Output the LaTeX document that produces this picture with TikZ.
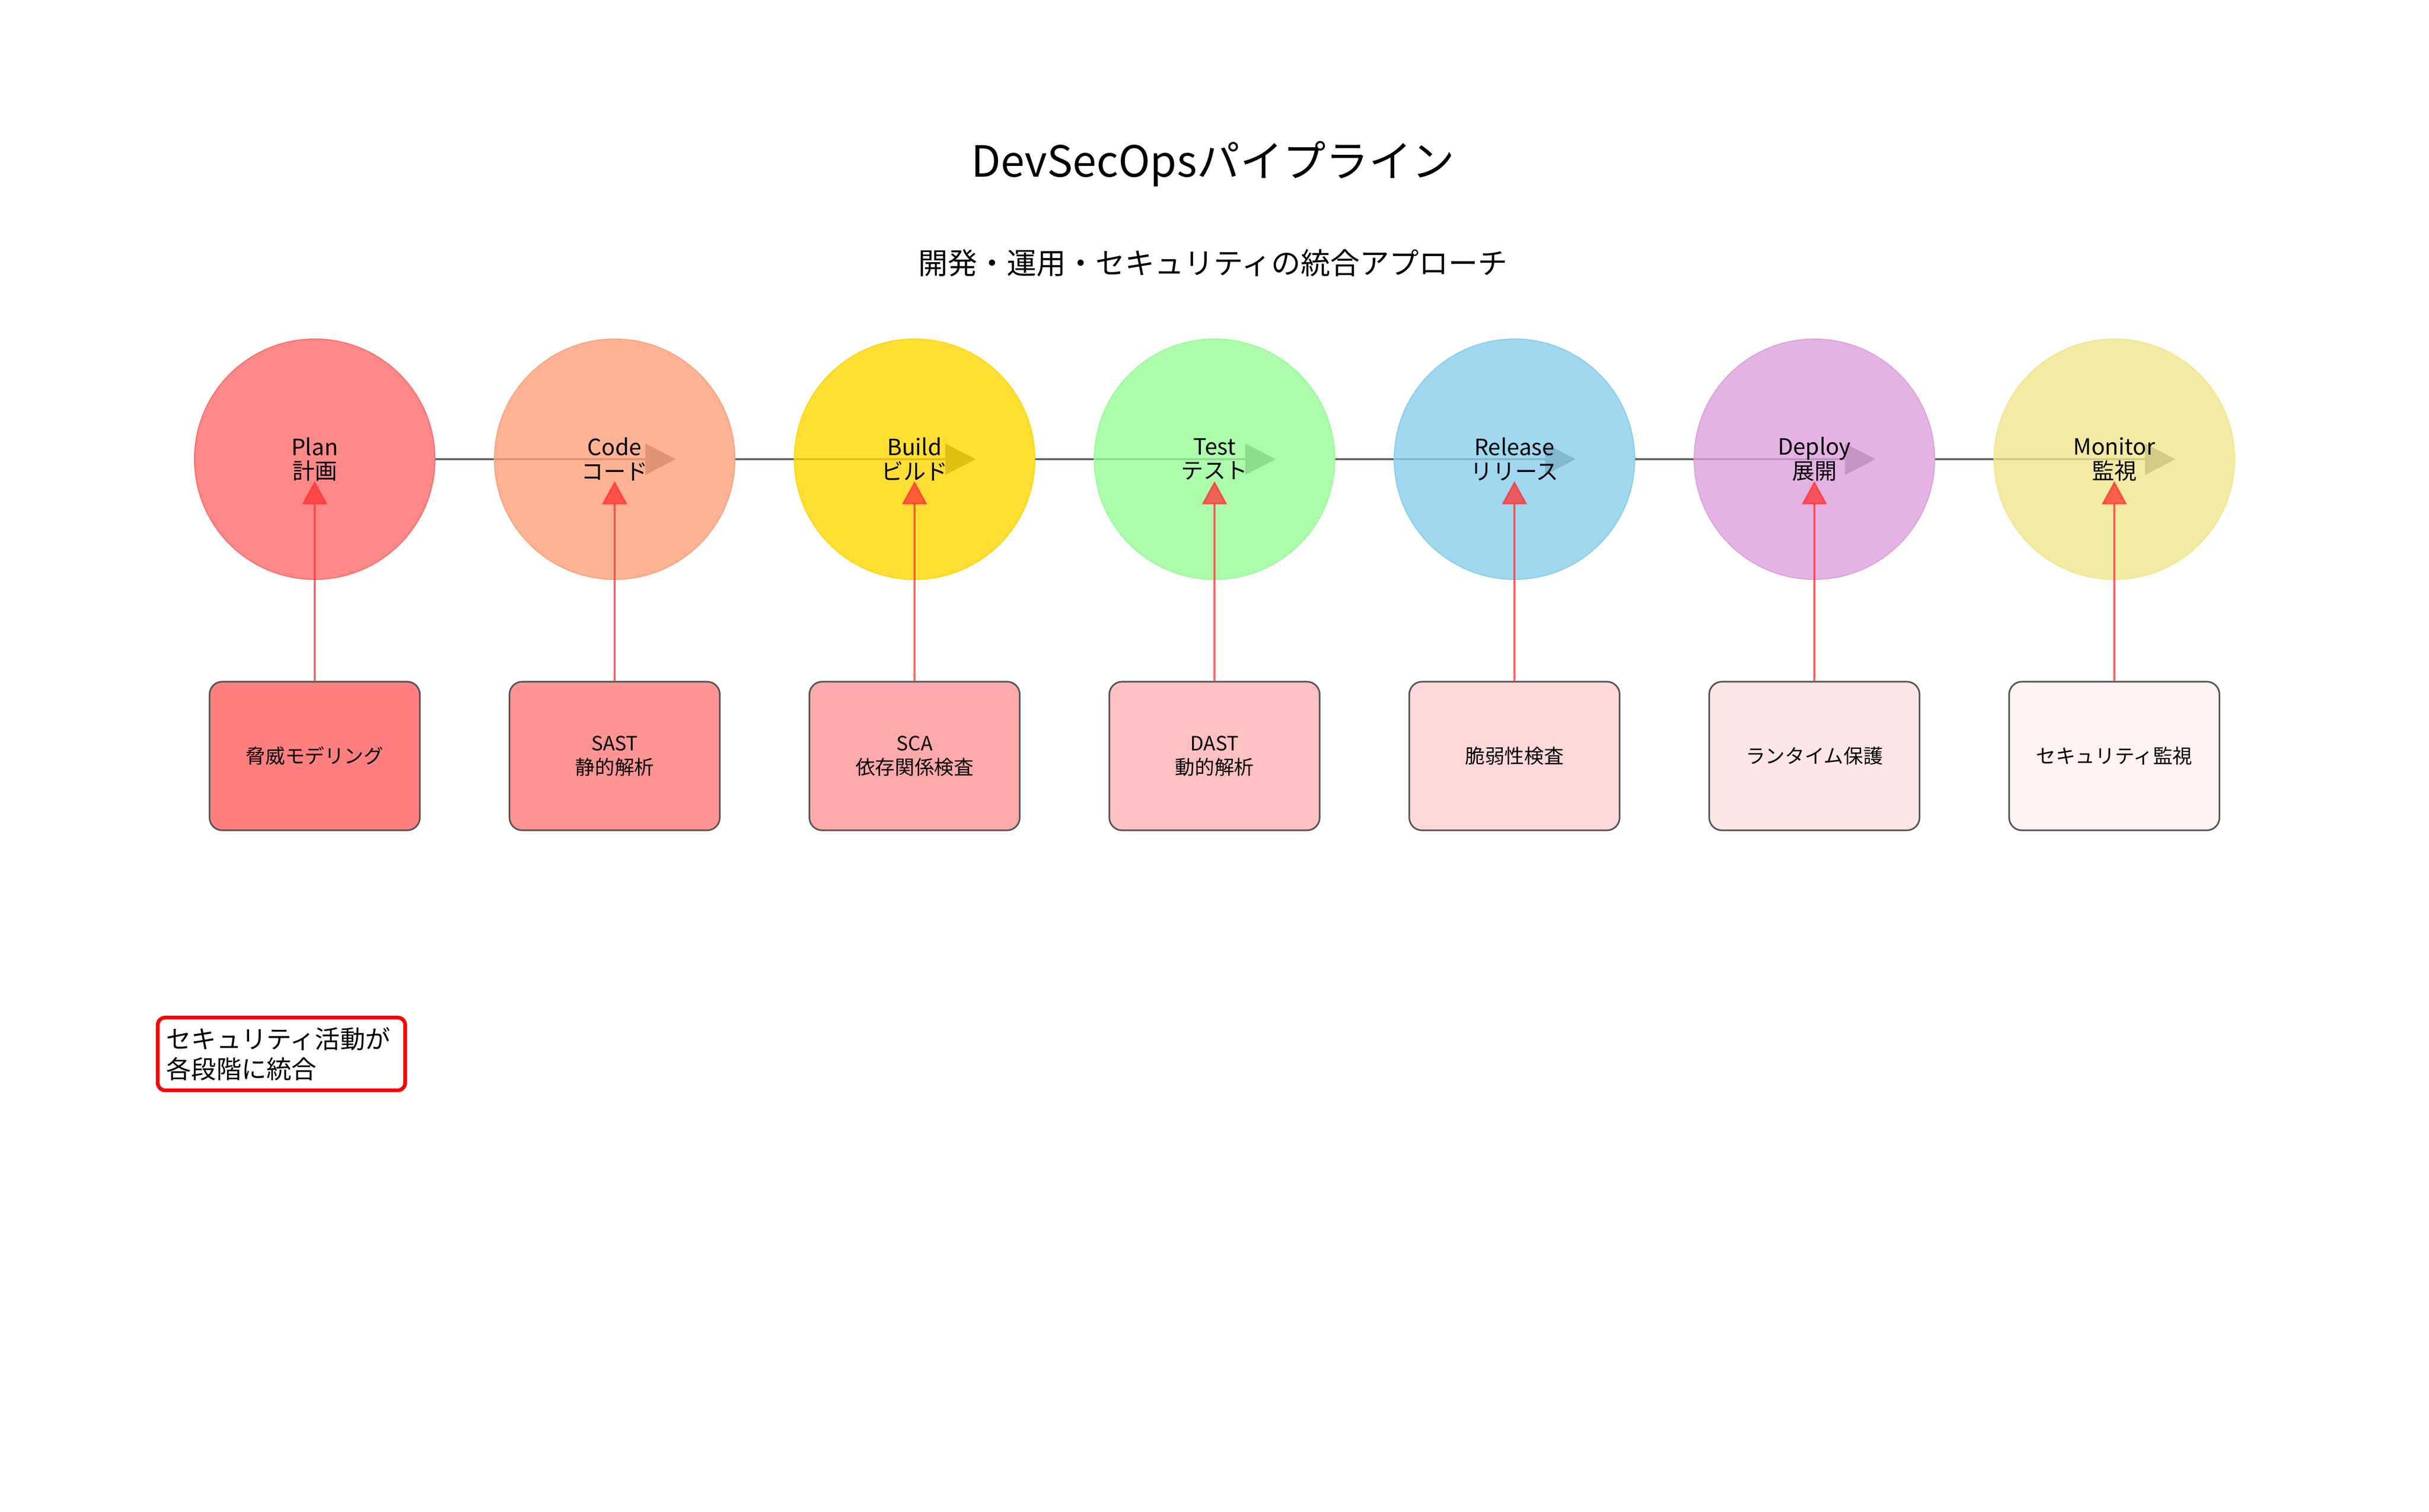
\documentclass[tikz,border=0pt]{standalone}
\usepackage{fontspec}
\setmainfont{Noto Sans CJK JP}
\usetikzlibrary{arrows.meta,backgrounds}

\definecolor{planc}{HTML}{FF6B6B}
\definecolor{codec}{HTML}{FFA07A}
\definecolor{buildc}{HTML}{FFD700}
\definecolor{testc}{HTML}{98FB98}
\definecolor{releasec}{HTML}{87CEEB}
\definecolor{deployc}{HTML}{DDA0DD}
\definecolor{monitorc}{HTML}{F0E68C}
\definecolor{flowgray}{HTML}{666666}
\definecolor{secred}{HTML}{FF3333}
\definecolor{boxline}{HTML}{555555}

\tikzset{
  stage/.style={circle, minimum size=4.72cm, inner sep=0pt, align=center, line width=0.6pt,
    fill opacity=0.8, text opacity=1, font=\fontsize{12.5}{13.5}\selectfont},
  secbox/.style={rectangle, rounded corners=0.25cm, draw=boxline, line width=0.9pt,
    minimum width=4.13cm, minimum height=2.92cm, align=center, font=\fontsize{11}{13.5}\selectfont},
  flow/.style={draw=flowgray, line width=1.1pt, -{Triangle[length=17pt,width=17.4pt]}},
  guard/.style={draw=secred, fill=secred, line width=0.9pt, opacity=0.75, -{Triangle[length=13pt,width=14pt]}},
  notebox/.style={draw=red, line width=2.1pt, rounded corners=0.15cm, fill=white, align=left,
    text width=4.52cm, inner xsep=0.17cm, minimum height=1.43cm, font=\fontsize{14}{17}\selectfont}
}

\begin{document}
\begin{tikzpicture}
  \useasboundingbox (0,0) rectangle (47.7,-29.7);

  % title
  \node[anchor=base, font=\fontsize{24}{28}\selectfont] (title) at (23.82,-3.47) {DevSecOpsパイプライン};
  \node[anchor=base, font=\fontsize{16.5}{20}\selectfont] (subtitle) at (23.82,-5.38) {開発・運用・セキュリティの統合アプローチ};

  % stages
  \node[stage, fill=planc, draw=planc] (plan) at (6.18,-9.02) {Plan\\計画};
  \node[stage, fill=codec, draw=codec] (code) at (12.07,-9.02) {Code\\コード};
  \node[stage, fill=buildc, draw=buildc] (build) at (17.96,-9.02) {Build\\ビルド};
  \node[stage, fill=testc, draw=testc] (test) at (23.85,-9.02) {Test\\テスト};
  \node[stage, fill=releasec, draw=releasec] (release) at (29.74,-9.02) {Release\\リリース};
  \node[stage, fill=deployc, draw=deployc] (deploy) at (35.63,-9.02) {Deploy\\展開};
  \node[stage, fill=monitorc, draw=monitorc] (monitor) at (41.52,-9.02) {Monitor\\監視};

  \begin{scope}[on background layer]
    \draw[flow] (plan) -- ([xshift=1.2cm]code.center);
    \draw[flow] (code) -- ([xshift=1.2cm]build.center);
    \draw[flow] (build) -- ([xshift=1.2cm]test.center);
    \draw[flow] (test) -- ([xshift=1.2cm]release.center);
    \draw[flow] (release) -- ([xshift=1.2cm]deploy.center);
    \draw[flow] (deploy) -- ([xshift=1.2cm]monitor.center);
  \end{scope}

  % security activities
  \node[secbox, fill={rgb,255:red,255;green,127;blue,127}] (threat) at (6.18,-14.85) {脅威モデリング};
  \node[secbox, fill={rgb,255:red,255;green,148;blue,148}] (sast) at (12.07,-14.85) {SAST\\静的解析};
  \node[secbox, fill={rgb,255:red,255;green,170;blue,170}] (sca) at (17.96,-14.85) {SCA\\依存関係検査};
  \node[secbox, fill={rgb,255:red,255;green,193;blue,193}] (dast) at (23.85,-14.85) {DAST\\動的解析};
  \node[secbox, fill={rgb,255:red,255;green,217;blue,217}] (vuln) at (29.74,-14.85) {脆弱性検査};
  \node[secbox, fill={rgb,255:red,255;green,230;blue,230}] (rasp) at (35.63,-14.85) {ランタイム保護};
  \node[secbox, fill={rgb,255:red,255;green,242;blue,242}] (secmon) at (41.52,-14.85) {セキュリティ監視};

  \draw[guard] (threat) -- ([yshift=-0.43cm]plan.center);
  \draw[guard] (sast) -- ([yshift=-0.43cm]code.center);
  \draw[guard] (sca) -- ([yshift=-0.43cm]build.center);
  \draw[guard] (dast) -- ([yshift=-0.43cm]test.center);
  \draw[guard] (vuln) -- ([yshift=-0.43cm]release.center);
  \draw[guard] (rasp) -- ([yshift=-0.43cm]deploy.center);
  \draw[guard] (secmon) -- ([yshift=-0.43cm]monitor.center);

  % note
  \node[notebox, anchor=north west] (note) at (3.06,-19.95) {セキュリティ活動が\\各段階に統合};
\end{tikzpicture}
\end{document}
